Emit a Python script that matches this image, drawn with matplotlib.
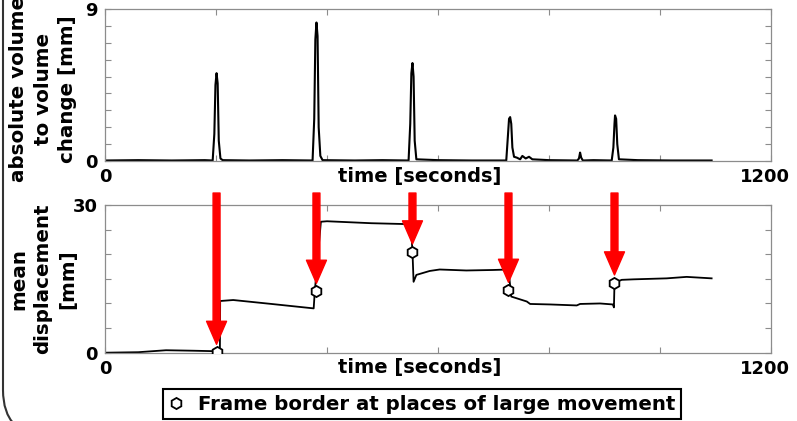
import numpy as np
import matplotlib
matplotlib.use('Agg')
import matplotlib.pyplot as plt
from matplotlib.lines import Line2D
from matplotlib.patches import FancyBboxPatch

plt.rcParams['font.family'] = ['DejaVu Sans']
plt.rcParams['font.weight'] = 'bold'

# top panel: absolute volume-to-volume change [mm]
t_vol = [0, 60, 120, 180, 194, 197, 199, 201, 203, 205, 208, 212,
         260, 320, 374, 377, 379, 381, 383, 385, 388, 392,
         450, 500, 547, 550, 552, 554, 556, 558, 561,
         600, 660, 723, 726, 728, 730, 732, 734, 737, 742, 748, 752, 758, 764, 770,
         800, 851, 854, 856, 858, 861,
         880, 913, 916, 918, 919, 921, 923, 926, 960, 1020, 1093]
v_vol = [0.03, 0.05, 0.03, 0.05, 0.03, 1.6, 4.5, 5.2, 4.6, 1.2, 0.15, 0.05,
         0.03, 0.05, 0.03, 2.5, 7.2, 8.2, 7.4, 2.0, 0.3, 0.05,
         0.03, 0.05, 0.03, 2.2, 5.2, 5.8, 5.0, 1.2, 0.1,
         0.05, 0.03, 0.03, 1.5, 2.5, 2.6, 2.2, 0.8, 0.25, 0.2, 0.1, 0.3, 0.15, 0.25, 0.1,
         0.05, 0.03, 0.15, 0.5, 0.2, 0.03,
         0.05, 0.03, 0.8, 2.2, 2.7, 2.5, 1.0, 0.1, 0.05, 0.03, 0.03]

# bottom panel: mean displacement [mm]
t_disp = [0, 60, 110, 160, 200, 207, 207.5, 231, 300, 376, 378, 389, 400, 480, 551, 554, 556, 561,
          585, 603, 651, 699, 727, 732, 760, 766, 802, 850, 856, 892, 915, 917, 918, 931, 952, 1012,
          1048, 1093]
v_disp = [0.0, 0.1, 0.5, 0.4, 0.3, 0.3, 10.5, 10.7, 9.9, 9.0, 12.5, 26.6, 26.7, 26.3, 26.1, 20.5,
          14.4, 15.8, 16.6, 16.9, 16.7, 16.8, 16.9, 11.4, 10.4, 9.9, 9.8, 9.6, 9.9, 10.0, 9.8, 9.2,
          14.2, 14.8, 14.9, 15.1, 15.4, 15.1]

# frame borders at places of large movement
t_mark = [201, 381, 554, 727, 918]
v_mark = [0.1, 12.5, 20.5, 12.7, 14.2]

spine_c = '#8c8c8c'

fig = plt.figure(figsize=(7.97, 4.21), dpi=100)
ax1 = fig.add_axes([105/797, 1-161/421, 666/797, 152/421])
ax2 = fig.add_axes([105/797, 1-352.7/421, 666/797, 147.7/421])

ax1.plot(t_vol, v_vol, color='black', lw=1.5)
ax2.plot(t_disp, v_disp, color='black', lw=1.3)
ax2.plot(t_mark, v_mark, ls='none', marker='h', ms=8, mfc='white', mec='black', mew=1.3, zorder=5)

for ax, ymax, ystep in ((ax1, 9, 1), (ax2, 30, 5)):
    ax.set_xlim(0, 1200)
    ax.set_ylim(0, ymax)
    ax.set_xticks(range(0, 1201, 200))
    ax.set_xticklabels(['0', '', '', '', '', '', ''])
    yt = list(range(0, ymax + 1, ystep))
    ax.set_yticks(yt)
    ax.set_yticklabels(['0'] + [''] * (len(yt) - 2) + [str(ymax)])
    ax.tick_params(direction='in', length=4, width=0.8, color=spine_c, labelcolor='black',
                   labelsize=13, top=True, right=True, pad=5)
    for s in ax.spines.values():
        s.set_color(spine_c)
        s.set_linewidth(0.9)
    # the 1200 label sits a little left of the axis end
    ax.annotate('1200', xy=(1, 0), xycoords='axes fraction', xytext=(-6, -7),
                textcoords='offset pixels', ha='center', va='top', fontsize=13)
    ax.text(0.473, -0.1, 'time [seconds]', transform=ax.transAxes, ha='center', va='center',
            fontsize=14)

ax1.text(-0.093, 0.474, 'absolute volume\nto volume\nchange [mm]', transform=ax1.transAxes,
         rotation=90, ha='center', va='center', fontsize=14.3, multialignment='center',
         linespacing=1.35)
ax2.text(-0.093, 0.5, 'mean\ndisplacement\n[mm]', transform=ax2.transAxes,
         rotation=90, ha='center', va='center', fontsize=14.3, multialignment='center',
         linespacing=1.35)

# red arrows pointing at the frame borders
for t, v in zip(t_mark, v_mark):
    ax2.annotate('', xy=(t, v + 1.6), xycoords='data',
                 xytext=(t, 1.081), textcoords=('data', 'axes fraction'),
                 arrowprops=dict(arrowstyle='simple,head_length=1.66,head_width=1.44,tail_width=0.5',
                                 mutation_scale=10, color='#ff0000', shrinkA=0, shrinkB=0),
                 zorder=10, annotation_clip=False)

h = Line2D([], [], ls='none', marker='h', ms=8, mfc='white', mec='black', mew=1.3)
leg = fig.legend([h], ['Frame border at places of large movement'], loc='center',
                 bbox_to_anchor=(422/797, 1-404/421), fontsize=14.2, fancybox=False,
                 edgecolor='black', framealpha=1, borderpad=0.28, handlelength=0.8,
                 handletextpad=0.7, borderaxespad=0)
leg.get_frame().set_linewidth(1.5)

# rounded outer frame, mostly outside the image
frame = FancyBboxPatch((0.03, -0.15), 10, 6, boxstyle='round,pad=0,rounding_size=0.46',
                       transform=fig.dpi_scale_trans, fill=False, edgecolor='#333333', lw=1.5)
fig.patches.append(frame)

fig.savefig('out.png', dpi=100)
